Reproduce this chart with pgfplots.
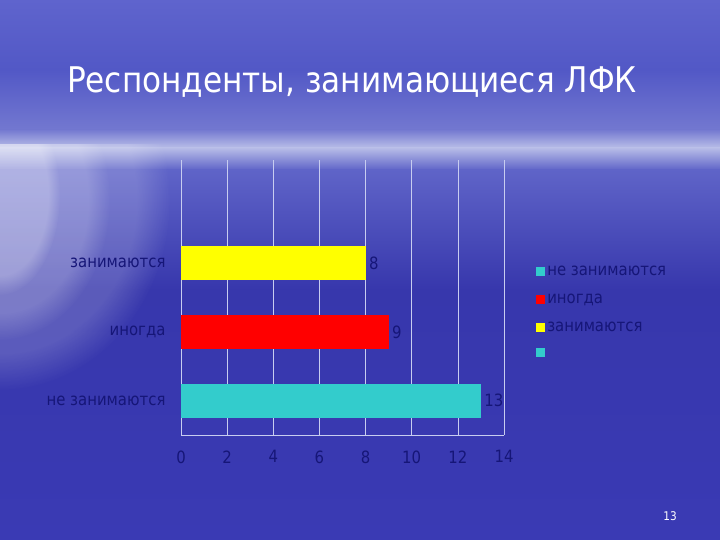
\documentclass[border=0pt]{standalone}
\usepackage{fontspec}
\setmainfont{DejaVu Sans}[FakeStretch=0.88]
\usepackage{pgfplots}
\pgfplotsset{compat=1.18}
\usetikzlibrary{fadings}

\definecolor{navy}{RGB}{22,22,120}
\definecolor{barcyan}{RGB}{51,204,204}
\definecolor{barred}{RGB}{255,0,0}
\definecolor{baryellow}{RGB}{255,255,0}
\definecolor{skytop}{RGB}{95,100,205}
\definecolor{skymid}{RGB}{82,88,198}
\definecolor{skylow}{RGB}{115,120,208}
\definecolor{horizon}{RGB}{185,190,232}
\definecolor{seatop}{RGB}{95,100,200}
\definecolor{seamid}{RGB}{55,55,172}
\definecolor{seabot}{RGB}{58,58,180}
\definecolor{gridc}{RGB}{200,205,240}

\begin{document}
\begin{tikzpicture}[x=1bp,y=1bp]
\useasboundingbox (0,0) rectangle (720,540);
% slide background
\shade[top color=skytop, bottom color=skymid] (0,470) rectangle (720,540);
\shade[top color=skymid, bottom color=skylow] (0,410) rectangle (720,470.5);
\shade[top color=skylow, bottom color=horizon] (0,392) rectangle (720,410.5);
\shade[top color=horizon, bottom color=seatop] (0,370) rectangle (720,392.5);
\shade[top color=seatop, bottom color=seamid] (0,250) rectangle (720,370.5);
\shade[top color=seamid, bottom color=seabot] (0,0) rectangle (720,250.5);
\begin{scope}
\clip (0,0) rectangle (720,395);
\fill[white, opacity=0.18, path fading=circle with fuzzy edge 20 percent] (0,340) ellipse [x radius=170, y radius=190];
\fill[white, opacity=0.2, path fading=circle with fuzzy edge 20 percent] (0,340) ellipse [x radius=110, y radius=140];
\fill[white, opacity=0.25, path fading=circle with fuzzy edge 20 percent] (0,345) ellipse [x radius=60, y radius=100];
\end{scope}

% title
\node[text=white, font=\fontsize{35.5}{40}\selectfont] at (352,458) {Респонденты, занимающиеся ЛФК};

\begin{axis}[
  at={(181bp,105bp)}, anchor=south west,
  scale only axis, width=323bp, height=275bp,
  xbar, bar width=34bp,
  xmin=0, xmax=14, ymin=-0.5, ymax=3.5,
  xtick={0,2,...,14},
  ytick={0,1,2},
  yticklabels={не занимаются, иногда, занимаются},
  axis x line*=bottom, axis y line*=left,
  axis line style={gridc},
  xmajorgrids, grid style={gridc, line width=0.6pt},
  major tick length=0pt,
  tick label style={text=navy, font=\fontsize{17}{19}\selectfont},
  xticklabel style={yshift=-12bp},
  yticklabel style={xshift=-12bp},
  /pgf/number format/assume math mode=true,
  every axis plot/.append style={bar shift=0pt, draw=none},
  nodes near coords,
  every node near coord/.append style={text=navy, font=\fontsize{17}{19}\selectfont},
  legend style={at={(1.09,0.63)}, anchor=north west, draw=none, fill=none,
    font=\fontsize{17}{19}\selectfont, text=navy, row sep=13bp,
    /tikz/every even column/.append style={column sep=4bp}},
  legend cell align=left,
  legend image code/.code={\fill[#1, draw=none] (0bp,-4.5bp) rectangle (9bp,4.5bp);},
]
\addplot[fill=barcyan] coordinates {(13,0)};
\addplot[fill=barred] coordinates {(9,1)};
\addplot[fill=baryellow] coordinates {(8,2)};
\legend{не занимаются, иногда, занимаются}
\addlegendimage{fill=barcyan}
\addlegendentry{}
\end{axis}

\node[text=white, font=\fontsize{12}{14}\selectfont] at (670,24) {13};
\end{tikzpicture}
\end{document}
